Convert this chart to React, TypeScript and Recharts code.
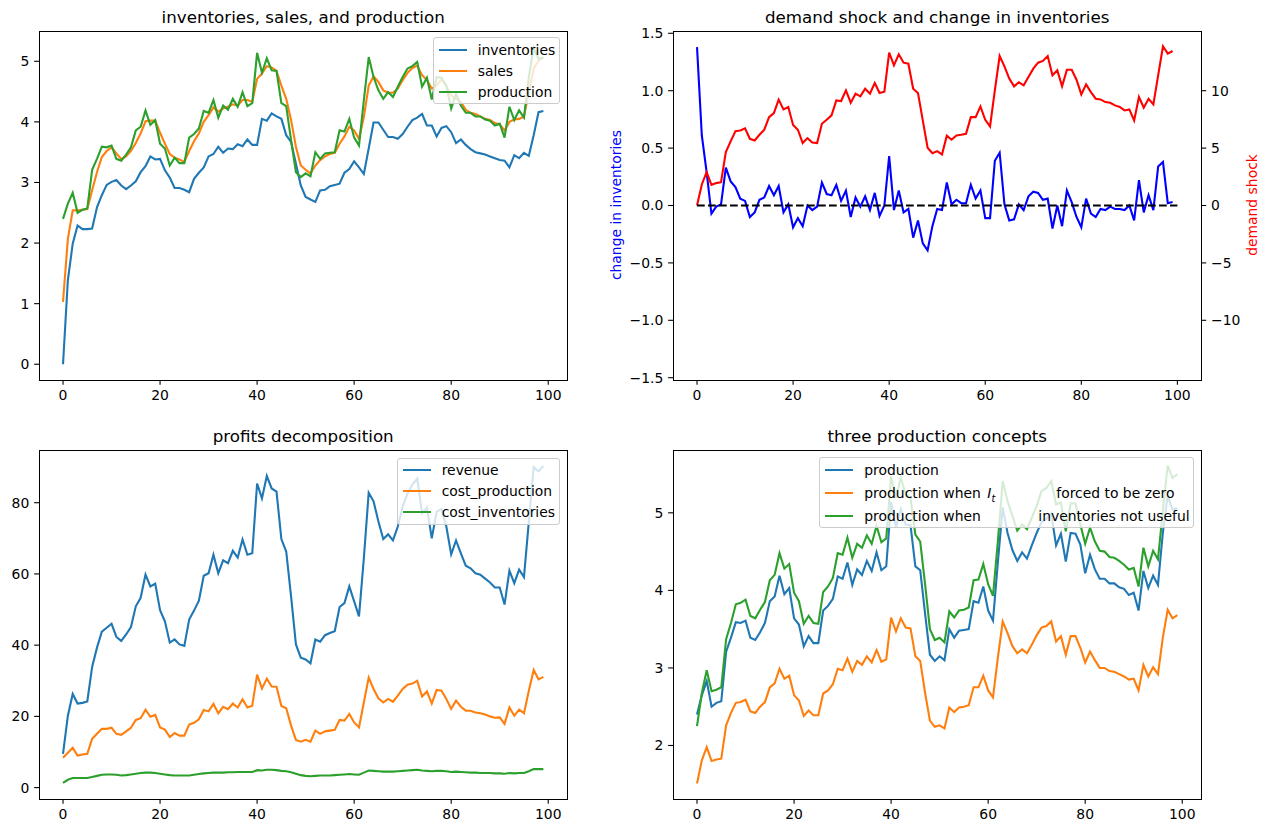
import React from "react";
import { LineChart, Line, XAxis, YAxis, ReferenceLine } from "recharts";

// Figure geometry (px); four panels laid out like a 2x2 matplotlib grid.
const W = 1268;
const H = 834;
const FONT = "DejaVu Sans, sans-serif";
const COL_X = [39, 673];
const ROW_Y = [31, 450];
const PLOT_W = 528.4;
const PLOT_H = 349;
const X_AXIS_H = 30;
const TICK = { fill: "#000", fontSize: 13.9, fontFamily: FONT };
const TICK_LINE = { stroke: "#000", strokeWidth: 1.1 };
const TICK_SIZE = 4.86;
const LW = 2.1;
const BLUE = "#1f77b4";
const ORANGE = "#ff7f0e";
const GREEN = "#2ca02c";

const xTicks = [0, 20, 40, 60, 80, 100];
const zeroLineX = [0, 100];

const inventories = [
  0, 1.39, 1.99, 2.29, 2.23, 2.23, 2.24, 2.59, 2.79, 2.96,
  3.01, 3.04, 2.95, 2.89, 2.95, 3.02, 3.17, 3.27, 3.43, 3.38,
  3.39, 3.2, 3.08, 2.91, 2.91, 2.88, 2.84, 3.06, 3.16, 3.25,
  3.43, 3.47, 3.59, 3.49, 3.56, 3.55, 3.63, 3.6, 3.71, 3.62,
  3.62, 4.05, 4.02, 4.14, 4.09, 4.05, 3.78, 3.67, 3.31, 2.95,
  2.76, 2.72, 2.68, 2.87, 2.88, 2.94, 2.96, 2.98, 3.16, 3.22,
  3.35, 3.25, 3.14, 3.56, 3.99, 3.99, 3.87, 3.75, 3.75, 3.72,
  3.8, 3.92, 4.03, 4.07, 4.13, 3.94, 3.94, 3.76, 3.9, 3.93,
  3.83, 3.65, 3.71, 3.62, 3.55, 3.5, 3.48, 3.46, 3.43, 3.4,
  3.37, 3.36, 3.25, 3.45, 3.4, 3.49, 3.44, 3.78, 4.16, 4.18,
];

const sales = [
  1.03, 2.07, 2.54, 2.54, 2.55, 2.56, 2.87, 3.17, 3.42, 3.52,
  3.58, 3.48, 3.39, 3.43, 3.52, 3.65, 3.81, 4.01, 4.02, 4.02,
  3.82, 3.64, 3.47, 3.41, 3.38, 3.34, 3.52, 3.68, 3.81, 4.0,
  4.11, 4.24, 4.17, 4.22, 4.25, 4.29, 4.27, 4.36, 4.36, 4.33,
  4.71, 4.8, 4.92, 4.9, 4.84, 4.6, 4.38, 4.03, 3.59, 3.28,
  3.21, 3.15, 3.28, 3.37, 3.43, 3.47, 3.49, 3.64, 3.76, 3.92,
  3.86, 3.72, 4.08, 4.6, 4.75, 4.66, 4.52, 4.48, 4.48, 4.55,
  4.69, 4.81, 4.89, 4.93, 4.77, 4.69, 4.55, 4.6, 4.7, 4.6,
  4.44, 4.38, 4.33, 4.2, 4.15, 4.13, 4.09, 4.05, 4.03, 3.98,
  3.96, 3.86, 4.0, 4.04, 4.05, 4.09, 4.49, 4.88, 5.01, 5.07,
];

const production = [
  2.4, 2.65, 2.83, 2.5, 2.55, 2.57, 3.21, 3.39, 3.59, 3.58,
  3.61, 3.39, 3.36, 3.46, 3.58, 3.86, 3.92, 4.19, 3.95, 4.03,
  3.64, 3.56, 3.28, 3.41, 3.32, 3.32, 3.74, 3.8, 3.89, 4.18,
  4.15, 4.36, 4.07, 4.27, 4.2, 4.38, 4.25, 4.49, 4.26, 4.31,
  5.14, 4.81, 5.05, 4.85, 4.84, 4.31, 4.26, 3.7, 3.17, 3.09,
  3.15, 3.1, 3.5, 3.39, 3.48, 3.49, 3.5, 3.86, 3.84, 4.05,
  3.74, 3.61, 4.36, 5.07, 4.74, 4.52, 4.38, 4.49, 4.41, 4.58,
  4.74, 4.88, 4.92, 4.99, 4.58, 4.73, 4.37, 4.74, 4.73, 4.59,
  4.22, 4.46, 4.27, 4.15, 4.15, 4.09, 4.09, 4.04, 4.02, 3.94,
  3.97, 3.74, 4.25, 4.03, 4.19, 4.07, 4.74, 5.22, 5.04, 5.06,
];

const inventoryChange = [
  1.38, 0.61, 0.29, -0.07, -0.01, 0.01, 0.33, 0.21, 0.16, 0.06,
  0.04, -0.1, -0.06, 0.05, 0.07, 0.17, 0.09, 0.17, -0.06, 0.01,
  -0.19, -0.11, -0.18, 0.0, -0.04, -0.01, 0.2, 0.1, 0.09, 0.18,
  0.04, 0.13, -0.1, 0.07, -0.01, 0.08, -0.04, 0.11, -0.09, 0.0,
  0.43, -0.04, 0.13, -0.06, -0.03, -0.28, -0.13, -0.33, -0.39, -0.18,
  -0.03, -0.04, 0.2, 0.01, 0.05, 0.02, 0.02, 0.18, 0.06, 0.13,
  -0.11, -0.11, 0.39, 0.46, 0.01, -0.13, -0.12, 0.01, -0.04, 0.08,
  0.12, 0.11, 0.05, 0.06, -0.2, 0.0, -0.18, 0.13, 0.03, -0.1,
  -0.19, 0.06, -0.07, -0.1, -0.03, -0.04, -0.01, -0.03, -0.03, -0.04,
  0.0, -0.13, 0.22, -0.06, 0.09, -0.04, 0.34, 0.38, 0.02, 0.03,
];

const demandShock = [
  0, 1.83, 2.91, 1.8, 1.95, 2.03, 4.65, 5.58, 6.48, 6.54,
  6.72, 5.81, 5.67, 6.16, 6.6, 7.7, 8.05, 9.22, 8.37, 8.58,
  7.01, 6.6, 5.44, 5.87, 5.49, 5.44, 7.12, 7.47, 7.85, 9.16,
  9.1, 10.03, 8.95, 9.74, 9.51, 10.17, 9.74, 10.67, 9.8, 9.91,
  13.31, 12.21, 13.17, 12.44, 12.35, 10.17, 9.8, 7.41, 5.03, 4.56,
  4.74, 4.45, 6.08, 5.73, 6.1, 6.16, 6.25, 7.7, 7.7, 8.63,
  7.47, 6.89, 10.03, 13.02, 12.12, 11.05, 10.38, 10.73, 10.47, 11.19,
  11.92, 12.44, 12.59, 13.02, 11.34, 11.77, 10.38, 11.83, 11.83, 10.96,
  9.68, 10.55, 9.88, 9.3, 9.24, 9.01, 8.95, 8.72, 8.58, 8.28,
  8.37, 7.41, 9.45, 8.52, 9.3, 8.81, 11.34, 13.87, 13.23, 13.46,
];

const revenue = [
  9.5, 20.2, 26.3, 23.6, 23.8, 24.2, 33.9, 39.3, 43.8, 44.9,
  46.0, 42.3, 41.2, 43.0, 45.1, 50.9, 53.3, 59.8, 56.5, 57.3,
  49.8, 46.7, 40.7, 41.6, 40.2, 39.8, 47.2, 49.7, 52.5, 59.5,
  60.2, 65.4, 60.2, 63.8, 63.0, 66.5, 64.6, 69.7, 65.4, 65.8,
  85.4, 81.2, 87.5, 84.0, 83.1, 69.8, 66.3, 53.7, 40.2, 36.5,
  36.0, 34.9, 41.6, 41.0, 42.8, 43.4, 43.9, 50.7, 51.8, 56.5,
  52.3, 48.1, 64.4, 82.8, 80.4, 74.7, 69.8, 71.1, 69.4, 73.3,
  78.9, 82.6, 85.1, 86.8, 77.0, 78.6, 70.0, 77.5, 78.2, 73.3,
  65.5, 69.4, 65.8, 62.3, 61.6, 60.2, 59.8, 58.7, 57.6, 56.2,
  56.2, 51.4, 60.9, 57.4, 61.2, 59.1, 74.7, 90.0, 88.8, 90.3,
];

const costProduction = [
  8.4, 9.8, 11.2, 9.0, 9.3, 9.5, 13.7, 15.1, 16.5, 16.5,
  16.8, 15.1, 14.8, 15.8, 16.8, 19.0, 19.5, 21.9, 19.9, 20.4,
  16.9, 16.3, 14.2, 15.3, 14.6, 14.6, 17.7, 18.2, 19.2, 21.8,
  21.4, 23.5, 20.9, 22.7, 22.0, 23.6, 22.5, 24.8, 22.5, 23.0,
  31.7, 27.8, 30.6, 28.4, 28.3, 22.9, 22.3, 17.4, 13.4, 12.9,
  13.4, 12.9, 16.0, 15.1, 15.8, 16.0, 16.2, 19.0, 18.8, 20.7,
  18.3, 16.9, 23.9, 30.9, 27.7, 25.1, 23.9, 24.9, 24.1, 25.8,
  27.7, 28.9, 29.2, 30.0, 25.6, 27.0, 23.6, 27.4, 27.2, 24.9,
  22.1, 24.4, 22.7, 21.6, 21.6, 21.1, 20.9, 20.5, 20.0, 19.6,
  19.7, 17.9, 22.5, 20.2, 21.9, 20.9, 27.2, 33.0, 30.4, 31.1,
];

const costInventories = [
  1.3, 2.2, 2.7, 2.7, 2.7, 2.7, 3.0, 3.3, 3.6, 3.7,
  3.7, 3.6, 3.4, 3.5, 3.7, 3.9, 4.1, 4.2, 4.2, 4.1,
  3.9, 3.7, 3.5, 3.4, 3.4, 3.4, 3.4, 3.6, 3.8, 4.0,
  4.1, 4.2, 4.2, 4.2, 4.3, 4.3, 4.4, 4.4, 4.4, 4.4,
  4.9, 4.8, 5.0, 5.0, 4.9, 4.7, 4.6, 4.3, 3.9, 3.5,
  3.3, 3.2, 3.3, 3.4, 3.4, 3.4, 3.5, 3.6, 3.7, 3.8,
  3.7, 3.6, 4.2, 4.8, 4.7, 4.6, 4.5, 4.5, 4.5, 4.6,
  4.7, 4.8, 4.9, 5.0, 4.8, 4.7, 4.6, 4.7, 4.7, 4.6,
  4.4, 4.5, 4.4, 4.3, 4.2, 4.2, 4.1, 4.1, 4.1, 4.0,
  4.0, 3.9, 4.1, 4.0, 4.1, 4.1, 4.6, 5.2, 5.2, 5.2,
];

const productionNoInventory = [
  1.51, 1.81, 1.98, 1.8, 1.82, 1.83, 2.26, 2.42, 2.55, 2.56,
  2.59, 2.44, 2.42, 2.5, 2.56, 2.75, 2.8, 2.99, 2.86, 2.9,
  2.65, 2.58, 2.38, 2.45, 2.39, 2.39, 2.67, 2.71, 2.79, 2.99,
  2.97, 3.12, 2.95, 3.09, 3.04, 3.15, 3.07, 3.23, 3.08, 3.11,
  3.65, 3.47, 3.64, 3.52, 3.51, 3.15, 3.09, 2.68, 2.32, 2.24,
  2.26, 2.22, 2.49, 2.43, 2.49, 2.5, 2.52, 2.75, 2.75, 2.9,
  2.71, 2.62, 3.13, 3.6, 3.45, 3.28, 3.19, 3.24, 3.19, 3.3,
  3.42, 3.52, 3.54, 3.6, 3.34, 3.41, 3.17, 3.41, 3.41, 3.26,
  3.07, 3.21, 3.1, 3.0, 3.0, 2.96, 2.95, 2.92, 2.89, 2.85,
  2.86, 2.71, 3.04, 2.89, 3.01, 2.92, 3.39, 3.75, 3.64, 3.68,
];

const productionNotUseful = [
  2.25, 2.68, 2.97, 2.7, 2.72, 2.75, 3.37, 3.58, 3.82, 3.84,
  3.88, 3.67, 3.64, 3.75, 3.85, 4.13, 4.2, 4.48, 4.28, 4.34,
  3.97, 3.86, 3.57, 3.67, 3.58, 3.57, 3.98, 4.05, 4.16, 4.48,
  4.46, 4.68, 4.42, 4.6, 4.55, 4.71, 4.6, 4.83, 4.62, 4.67,
  5.47, 5.19, 5.45, 5.24, 5.19, 4.72, 4.63, 4.08, 3.5, 3.36,
  3.39, 3.33, 3.73, 3.65, 3.74, 3.75, 3.78, 4.13, 4.14, 4.34,
  4.08, 3.93, 4.63, 5.41, 5.15, 4.96, 4.77, 4.85, 4.79, 4.94,
  5.09, 5.28, 5.32, 5.41, 5.11, 5.13, 4.76, 5.12, 5.12, 4.85,
  4.6, 4.81, 4.63, 4.51, 4.5, 4.43, 4.42, 4.38, 4.33, 4.27,
  4.29, 4.05, 4.55, 4.31, 4.51, 4.4, 5.02, 5.61, 5.45, 5.5,
];

const periods = inventories.map((_, i) => i);
const rows = periods.map((t) => ({
  t,
  inventories: inventories[t],
  sales: sales[t],
  production: production[t],
  inventoryChange: inventoryChange[t],
  demandShock: demandShock[t],
  revenue: revenue[t],
  costProduction: costProduction[t],
  costInventories: costInventories[t],
  productionNoInventory: productionNoInventory[t],
  productionNotUseful: productionNotUseful[t],
}));

const fmt = (digits: number) => (v: number) =>
  v.toFixed(digits).replace("-", "\u2212");

// margins that put the plot area of a full-page chart at the given cell
function marginFor(col: number, row: number, leftW: number, rightW: number) {
  const x = COL_X[col];
  const y = ROW_Y[row];
  return {
    left: x - leftW,
    top: y,
    right: W - x - PLOT_W - rightW,
    bottom: H - y - PLOT_H - X_AXIS_H,
  };
}

const axisCommon = {
  tick: TICK,
  tickLine: TICK_LINE,
  axisLine: false,
  tickSize: TICK_SIZE,
  tickMargin: TICK_SIZE,
  allowDataOverflow: true,
  interval: 0 as const,
};

function xAxis(domain: number[]) {
  return (
    <XAxis
      dataKey="t"
      type="number"
      domain={domain}
      ticks={xTicks}
      height={X_AXIS_H}
      {...axisCommon}
    />
  );
}

const layer: React.CSSProperties = { position: "absolute", left: 0, top: 0 };

function Frame({ col, row }: { col: number; row: number }) {
  return (
    <div
      style={{
        position: "absolute",
        left: COL_X[col] - 0.5,
        top: ROW_Y[row] - 0.5,
        width: PLOT_W + 1,
        height: PLOT_H + 1,
        boxSizing: "border-box",
        border: "1.1px solid #000",
        pointerEvents: "none",
      }}
    />
  );
}

function Title({ col, row, text }: { col: number; row: number; text: string }) {
  return (
    <div
      style={{
        position: "absolute",
        left: COL_X[col],
        width: PLOT_W,
        top: ROW_Y[row] - 24,
        height: 20,
        lineHeight: "20px",
        textAlign: "center",
        fontSize: 16.7,
        whiteSpace: "nowrap",
      }}
    >
      {text}
    </div>
  );
}

type Part = { left: number; content: React.ReactNode };
type LegendItem = { color: string; parts: Part[] };

function LegendBox({
  x, y, w, h, rowsY, items,
}: { x: number; y: number; w: number; h: number; rowsY: number[]; items: LegendItem[] }) {
  return (
    <div
      style={{
        position: "absolute",
        left: x,
        top: y,
        width: w,
        height: h,
        boxSizing: "border-box",
        border: "1px solid #cccccc",
        borderRadius: 3,
        background: "rgba(255,255,255,0.8)",
        fontSize: 13.9,
      }}
    >
      {items.map((it, k) => (
        <div key={k} style={{ position: "absolute", left: 0, top: rowsY[k] - 10, height: 20, width: "100%" }}>
          <div style={{ position: "absolute", left: 5, top: 9, width: 28, height: LW, background: it.color }} />
          {it.parts.map((p, j) => (
            <span
              key={j}
              style={{ position: "absolute", left: 44 + p.left, top: 0, lineHeight: "20px", whiteSpace: "nowrap" }}
            >
              {p.content}
            </span>
          ))}
        </div>
      ))}
    </div>
  );
}

const It = (
  <span>
    <span style={{ fontStyle: "italic" }}>I</span>
    <span style={{ fontStyle: "italic", fontSize: "70%", position: "relative", top: 4 }}>t</span>
  </span>
);

export default function App() {
  return (
    <div style={{ position: "relative", width: W, height: H, background: "#fff", fontFamily: FONT, overflow: "hidden" }}>
      <style>{"body{margin:0}"}</style>

      {/* inventories, sales, and production */}
      <div style={layer}>
        <LineChart width={W} height={H} data={rows} margin={marginFor(0, 0, 39, 0)}>
          {xAxis([-4.95, 103.95])}
          <YAxis type="number" domain={[-0.26, 5.5]} ticks={[0, 1, 2, 3, 4, 5]} width={39} tickFormatter={fmt(0)} {...axisCommon} />
          <Line type="linear" dataKey="inventories" stroke={BLUE} strokeWidth={LW} dot={false} isAnimationActive={false} />
          <Line type="linear" dataKey="sales" stroke={ORANGE} strokeWidth={LW} dot={false} isAnimationActive={false} />
          <Line type="linear" dataKey="production" stroke={GREEN} strokeWidth={LW} dot={false} isAnimationActive={false} />
        </LineChart>
      </div>

      {/* demand shock and change in inventories */}
      <div style={layer}>
        <LineChart width={W} height={H} data={rows} margin={marginFor(1, 0, 60, 40)}>
          {xAxis([-5, 105])}
          <YAxis yAxisId="left" type="number" domain={[-1.52, 1.52]} ticks={[-1.5, -1, -0.5, 0, 0.5, 1, 1.5]} width={60} tickFormatter={fmt(1)} {...axisCommon} />
          <YAxis yAxisId="right" orientation="right" type="number" domain={[-15.2, 15.2]} ticks={[-10, -5, 0, 5, 10]} width={40} tickFormatter={fmt(0)} {...axisCommon} />
          <Line yAxisId="left" type="linear" dataKey="inventoryChange" stroke="#0000ff" strokeWidth={LW} dot={false} isAnimationActive={false} />
          <Line yAxisId="right" type="linear" dataKey="demandShock" stroke="#ff0000" strokeWidth={LW} dot={false} isAnimationActive={false} />
          <ReferenceLine
            yAxisId="right"
            segment={[{ x: zeroLineX[0], y: 0 }, { x: zeroLineX[1], y: 0 }]}
            stroke="#000"
            strokeWidth={LW}
            strokeDasharray="7.7 3.3"
          />
        </LineChart>
      </div>

      {/* profits decomposition */}
      <div style={layer}>
        <LineChart width={W} height={H} data={rows} margin={marginFor(0, 1, 39, 0)}>
          {xAxis([-4.95, 103.95])}
          <YAxis type="number" domain={[-3.2, 94.8]} ticks={[0, 20, 40, 60, 80]} width={39} tickFormatter={fmt(0)} {...axisCommon} />
          <Line type="linear" dataKey="revenue" stroke={BLUE} strokeWidth={LW} dot={false} isAnimationActive={false} />
          <Line type="linear" dataKey="costProduction" stroke={ORANGE} strokeWidth={LW} dot={false} isAnimationActive={false} />
          <Line type="linear" dataKey="costInventories" stroke={GREEN} strokeWidth={LW} dot={false} isAnimationActive={false} />
        </LineChart>
      </div>

      {/* three production concepts */}
      <div style={layer}>
        <LineChart width={W} height={H} data={rows} margin={marginFor(1, 1, 60, 0)}>
          {xAxis([-4.95, 103.95])}
          <YAxis type="number" domain={[1.31, 5.81]} ticks={[2, 3, 4, 5]} width={60} tickFormatter={fmt(0)} {...axisCommon} />
          <Line type="linear" dataKey="production" stroke={BLUE} strokeWidth={LW} dot={false} isAnimationActive={false} />
          <Line type="linear" dataKey="productionNoInventory" stroke={ORANGE} strokeWidth={LW} dot={false} isAnimationActive={false} />
          <Line type="linear" dataKey="productionNotUseful" stroke={GREEN} strokeWidth={LW} dot={false} isAnimationActive={false} />
        </LineChart>
      </div>

      <Frame col={0} row={0} />
      <Frame col={1} row={0} />
      <Frame col={0} row={1} />
      <Frame col={1} row={1} />

      <Title col={0} row={0} text="inventories, sales, and production" />
      <Title col={1} row={0} text="demand shock and change in inventories" />
      <Title col={0} row={1} text="profits decomposition" />
      <Title col={1} row={1} text="three production concepts" />

      <div
        style={{
          position: "absolute", left: 616, top: 205, transform: "translate(-50%, -50%) rotate(-90deg)",
          color: "#0000ff", fontSize: 13.9, whiteSpace: "nowrap",
        }}
      >
        change in inventories
      </div>
      <div
        style={{
          position: "absolute", left: 1252, top: 205, transform: "translate(-50%, -50%) rotate(-90deg)",
          color: "#ff0000", fontSize: 13.9, whiteSpace: "nowrap",
        }}
      >
        demand shock
      </div>

      <LegendBox
        x={432.7} y={37.3} w={127.3} h={67}
        rowsY={[11.7, 32.7, 53.7]}
        items={[
          { color: BLUE, parts: [{ left: 0, content: "inventories" }] },
          { color: ORANGE, parts: [{ left: 0, content: "sales" }] },
          { color: GREEN, parts: [{ left: 0, content: "production" }] },
        ]}
      />
      <LegendBox
        x={396.7} y={457.7} w={163.6} h={67.3}
        rowsY={[11.6, 32.3, 53.3]}
        items={[
          { color: BLUE, parts: [{ left: 0, content: "revenue" }] },
          { color: ORANGE, parts: [{ left: 0, content: "cost_production" }] },
          { color: GREEN, parts: [{ left: 0, content: "cost_inventories" }] },
        ]}
      />
      <LegendBox
        x={819.3} y={457.3} w={375.2} h={70.7}
        rowsY={[11.7, 35, 57.7]}
        items={[
          { color: BLUE, parts: [{ left: 0, content: "production" }] },
          {
            color: ORANGE,
            parts: [
              { left: 0, content: "production when" },
              { left: 123, content: It },
              { left: 192, content: "forced to be zero" },
            ],
          },
          {
            color: GREEN,
            parts: [
              { left: 0, content: "production when" },
              { left: 174, content: "inventories not useful" },
            ],
          },
        ]}
      />
    </div>
  );
}
